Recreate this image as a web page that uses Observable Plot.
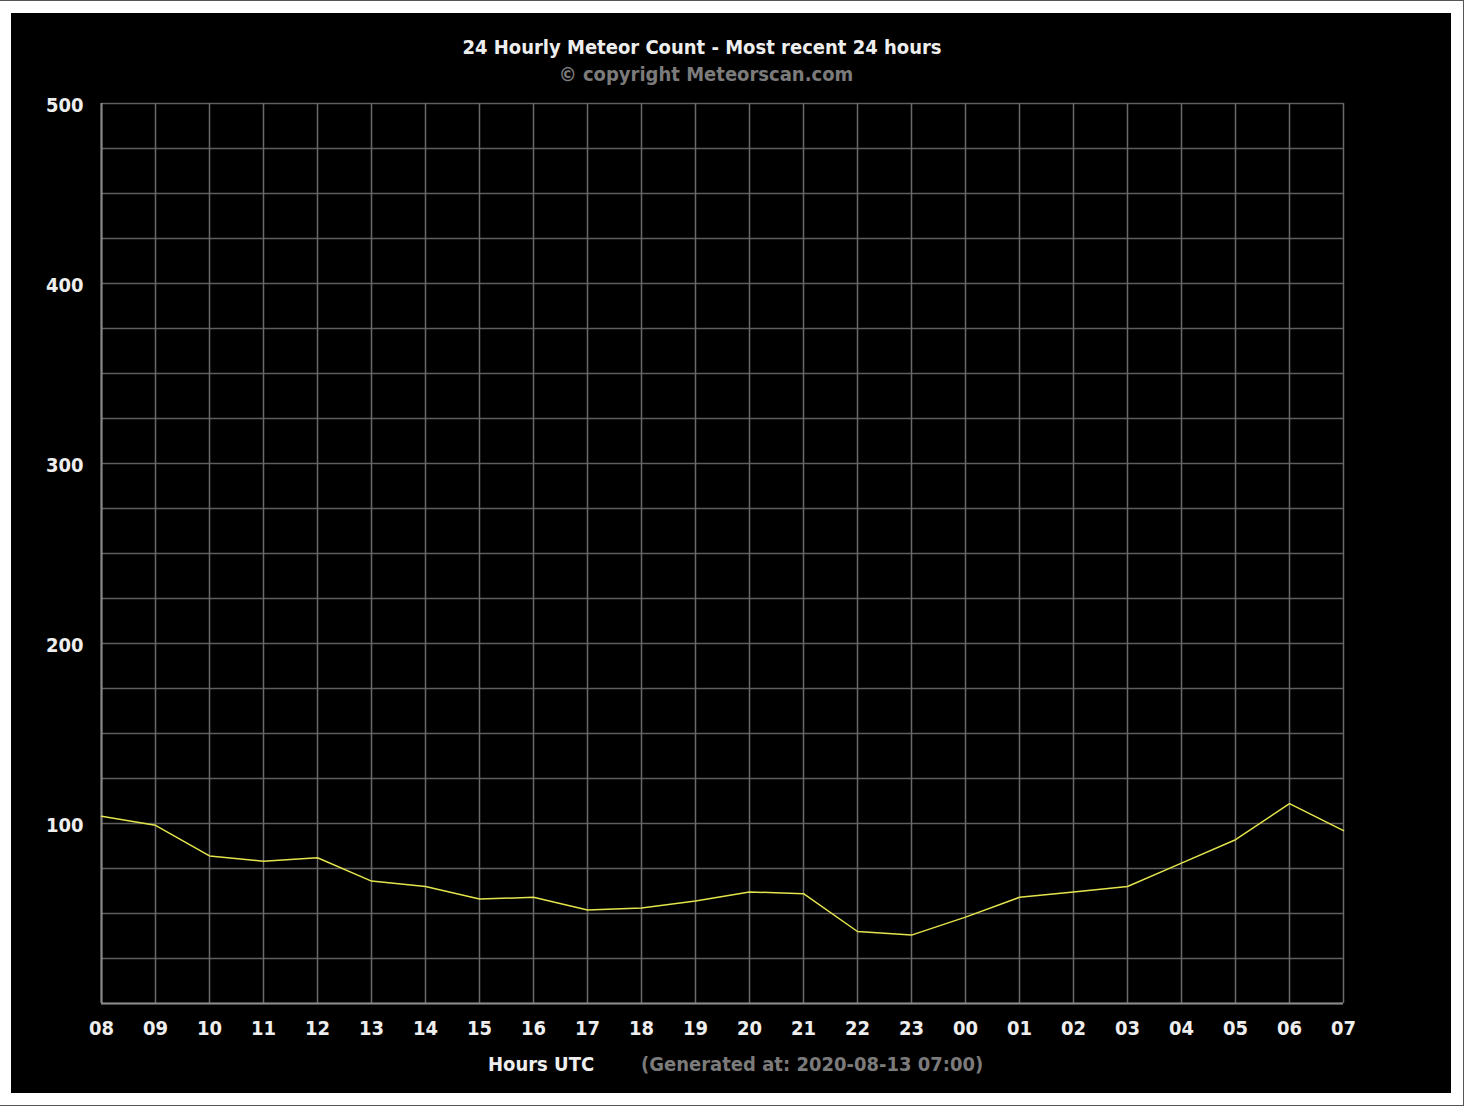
<!DOCTYPE html>
<html>
<head>
<meta charset="utf-8">
<script src="https://cdn.jsdelivr.net/npm/d3@7"></script>
<script src="https://cdn.jsdelivr.net/npm/@observablehq/plot@0.6"></script>
<style>
  html, body { margin: 0; padding: 0; background: #fff; }
  body { position: relative; width: 1464px; height: 1106px; overflow: hidden;
         font-family: "DejaVu Sans Condensed", "DejaVu Sans", "Liberation Sans", sans-serif; font-weight: bold; }
  #frame { position: absolute; left: 0; top: 0; width: 1464px; height: 1106px; box-sizing: border-box;
           border-top: 1px solid #555; border-right: 1px solid #555; border-bottom: 1px solid #555; }
  #panel { position: absolute; left: 11px; top: 13px; width: 1440px; height: 1080px; background: #000; }
  .t { position: absolute; white-space: nowrap; line-height: 24px; }
  #title { left: 0; width: 1404px; text-align: center; top: 35px; font-size: 20px; color: #eeeeee; }
  #subtitle { left: 0; width: 1412px; text-align: center; top: 62px; font-size: 20px; color: #7b7b7b; }
  #xlabel { left: 488px; top: 1052px; font-size: 20px; color: #eeeeee; }
  #generated { left: 641px; top: 1052px; font-size: 20px; color: #7b7b7b; }
  #chart { position: absolute; left: 11px; top: 90px; }
</style>
</head>
<body>
<div id="frame"></div>
<div id="panel"></div>
<div id="chart"></div>
<div class="t" id="title">24 Hourly Meteor Count - Most recent 24 hours</div>
<div class="t" id="subtitle">© copyright Meteorscan.com</div>
<div class="t" id="xlabel">Hours UTC</div>
<div class="t" id="generated">(Generated at: 2020-08-13 07:00)</div>
<script>
const hours = ["08","09","10","11","12","13","14","15","16","17","18","19","20","21","22","23","00","01","02","03","04","05","06","07"];
const counts = [104, 99, 82, 79, 81, 68, 65, 58, 59, 52, 53, 57, 62, 61, 40, 38, 48, 59, 62, 65, 78, 91, 111, 96];
const yTickLabels = [100, 200, 300, 400, 500];
const yGridValues = [0, 25, 50, 75, 100, 125, 150, 175, 200, 225, 250, 275, 300, 325, 350, 375, 400, 425, 450, 475, 500];

const data = hours.map((h, i) => ({hour: h, count: counts[i]}));

const chart = Plot.plot({
  width: 1440,
  height: 960,
  marginLeft: 90,
  marginRight: 108,
  marginTop: 13,
  marginBottom: 47,
  style: {
    background: "transparent",
    color: "#eeeeee",
    fontFamily: '"DejaVu Sans Condensed", "DejaVu Sans", "Liberation Sans", sans-serif',
    fontSize: "20px",
    fontWeight: "bold"
  },
  x: {type: "point", domain: hours, padding: 0},
  y: {type: "linear", domain: [0, 500]},
  marks: [
    Plot.ruleY(yGridValues, {y: d => d, stroke: "#5e5e5e", strokeWidth: 1.5}),
    Plot.ruleX(hours, {x: d => d, stroke: "#6a6a6a", strokeWidth: 1.5}),
    Plot.ruleX([hours[0]], {x: d => d, stroke: "#8a8a8a", strokeWidth: 2}),
    Plot.ruleY([0], {stroke: "#8a8a8a", strokeWidth: 2}),
    Plot.line(data, {x: "hour", y: "count", stroke: "#e4e44c", strokeWidth: 1.5}),
    Plot.axisY(yTickLabels, {tickSize: 0, tickPadding: 18, label: null, fill: "#eeeeee", dy: 2}),
    Plot.axisX(hours, {tickSize: 0, tickPadding: 17, label: null, fill: "#eeeeee"})
  ]
});
document.getElementById("chart").appendChild(chart);
</script>
</body>
</html>
